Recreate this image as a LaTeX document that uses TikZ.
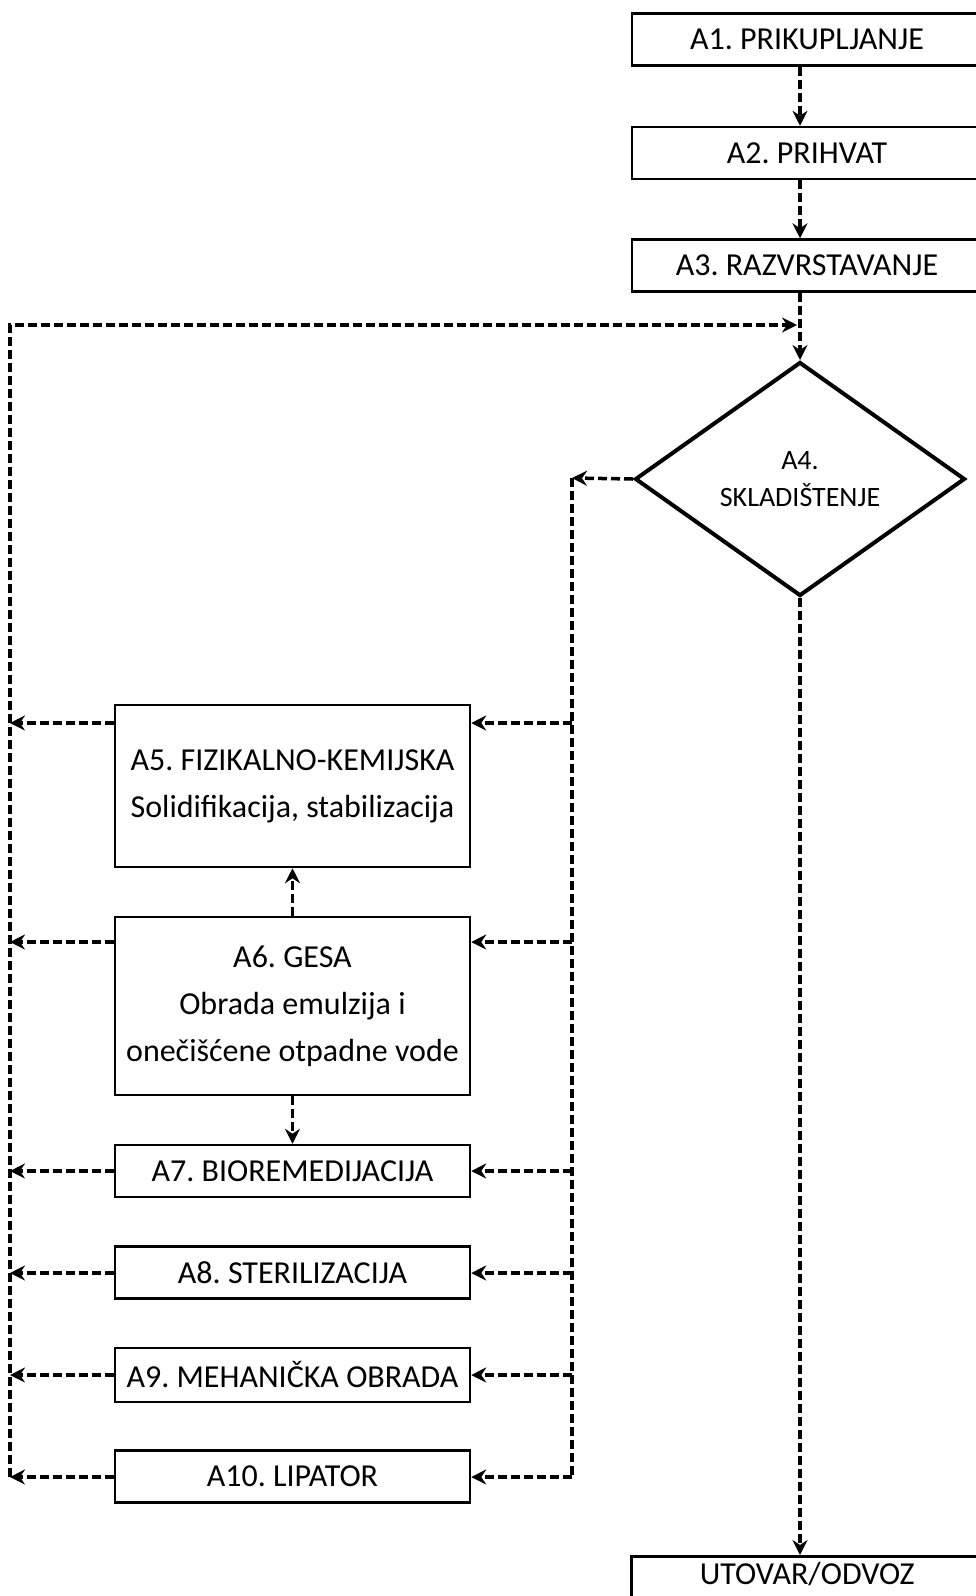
\documentclass[tikz,border=0pt]{standalone}
\usepackage{fontspec}
\setmainfont{Carlito}
\usetikzlibrary{shapes.geometric,arrows.meta}
\begin{document}
\frenchspacing
\begin{tikzpicture}[x=1pt,y=-1pt,
  box/.style={draw, line width=2.5pt, rectangle, minimum width=355pt, minimum height=52pt, inner sep=0pt, align=center, font=\fontsize{32}{47}\selectfont},
  topbox/.style={box, minimum width=350pt},
  conn/.style={line width=3.5pt, dash pattern=on 9pt off 4pt},
  arr/.style={conn, -{Stealth[length=15pt,width=15pt,inset=5pt]}}
]
\clip (0,0) rectangle (976,1596);
% main column
\node[topbox] (A1) at (807,39.5) {A1. PRIKUPLJANJE};
\node[topbox] (A2) at (807,153) {A2. PRIHVAT};
\node[topbox] (A3) at (807,265.5) {A3. RAZVRSTAVANJE};
\node[draw, diamond, line width=4pt, minimum width=330pt, minimum height=234pt, inner sep=0pt, align=center, font=\fontsize{28}{37}\selectfont] (A4) at (800,479) {A4.\\SKLADIŠTENJE};
\node[draw, line width=2.5pt, anchor=north west, minimum width=352pt, inner sep=0pt, text height=28pt, text depth=20pt, font=\fontsize{32}{46}\selectfont] (UT) at (630,1555) {UTOVAR/ODVOZ};
% treatment boxes
\node[box, minimum height=162pt] (A5) at (292.5,786) {A5. FIZIKALNO-KEMIJSKA\\Solidifikacija, stabilizacija};
\node[box, minimum height=178pt] (A6) at (292.5,1006) {A6. GESA\\Obrada emulzija i\\onečišćene otpadne vode};
\node[box] (A7) at (292.5,1171) {A7. BIOREMEDIJACIJA};
\node[box] (A8) at (292.5,1272.5) {A8. STERILIZACIJA};
\node[box, minimum height=54pt] (A9) at (292.5,1375) {A9. MEHANIČKA OBRADA};
\node[box] (A10) at (292.5,1476.5) {A10. LIPATOR};
% helper coordinates
\coordinate (FBtop) at (10,325);
\coordinate (FBend) at (797,325);
\coordinate (FBbot) at (10,1477);
\coordinate (DLtop) at (572,478);
\coordinate (DLbot) at (572,1477);
\foreach \n/\y in {A5/723, A6/942, A7/1171, A8/1273, A9/1375, A10/1477}{
  \coordinate (L\n) at (10,\y);
  \coordinate (R\n) at (572,\y);
}
% main flow
\draw[arr] (A1.south -| A4.north) -- (A2.north -| A4.north);
\draw[arr] (A2.south -| A4.north) -- (A3.north -| A4.north);
\draw[arr] (A3.south -| A4.north) -- (A4.north);
\draw[arr] (A4.south) -- (UT.north -| A4.south);
% feedback loop
\draw[arr] (FBbot) -- (FBtop) -- (FBend);
% distribution
\draw[arr] (A4.west) -- (DLtop);
\draw[conn] (DLtop) -- (DLbot);
\foreach \n in {A5,A6,A7,A8,A9,A10}{
  \draw[arr] (R\n) -- (\n.east |- R\n);
  \draw[arr] (\n.west |- L\n) -- (L\n);
}
% internal
\draw[arr] (A6.north) -- (A5.south);
\draw[arr] (A6.south) -- (A7.north);
\end{tikzpicture}
\end{document}
